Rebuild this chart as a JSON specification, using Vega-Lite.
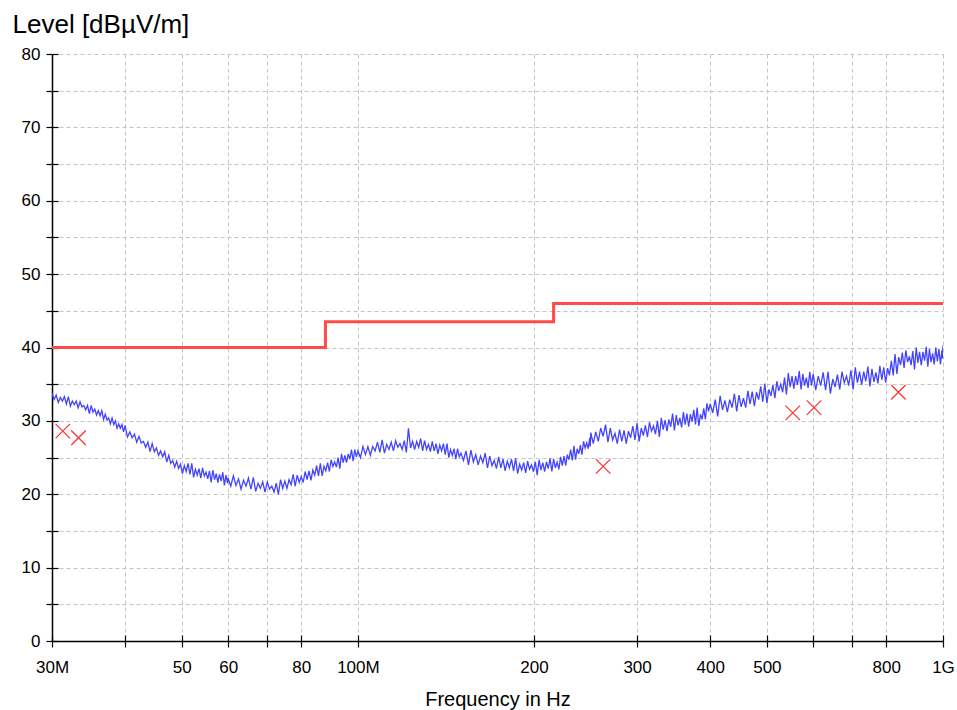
{
  "$schema": "https://vega.github.io/schema/vega-lite/v6.json",
  "width": 891,
  "height": 587,
  "autosize": "none",
  "padding": {"left": 52, "top": 54, "right": 14, "bottom": 69},
  "background": "white",
  "config": {
    "view": {"stroke": null},
    "font": "Liberation Sans"
  },
  "datasets": {
    "trace": [
      {"f":30,"v":33.8},{"f":30.25,"v":32.9},{"f":30.5,"v":33.5},{"f":30.75,"v":32.5},{"f":31,"v":33.2},{"f":31.25,"v":32.7},{"f":31.5,"v":33.3},{"f":31.75,"v":32.3},{"f":32,"v":33.3},{"f":32.25,"v":32.0},{"f":32.5,"v":32.7},{"f":32.75,"v":32.2},{"f":33,"v":32.7},{"f":33.25,"v":31.8},{"f":33.5,"v":32.6},{"f":33.75,"v":31.9},{"f":34,"v":32.1},{"f":34.25,"v":31.5},{"f":34.5,"v":32.1},{"f":34.75,"v":31.0},{"f":35,"v":32.1},{"f":35.25,"v":31.2},{"f":35.5,"v":31.6},{"f":35.75,"v":30.8},{"f":36,"v":31.4},{"f":36.25,"v":30.7},{"f":36.5,"v":31.4},{"f":36.75,"v":30.2},{"f":37,"v":30.9},{"f":37.25,"v":30.1},{"f":37.5,"v":30.4},{"f":37.75,"v":29.6},{"f":38,"v":30.4},{"f":38.25,"v":29.5},{"f":38.5,"v":30.0},{"f":38.75,"v":29.0},{"f":39,"v":29.6},{"f":39.25,"v":29.0},{"f":39.5,"v":29.5},{"f":39.75,"v":28.5},
      {"f":40,"v":29.4},{"f":40.375,"v":27.8},{"f":40.75,"v":28.5},{"f":41.125,"v":27.7},{"f":41.5,"v":28.2},{"f":41.875,"v":27.1},{"f":42.25,"v":27.9},{"f":42.625,"v":27.0},{"f":43,"v":27.2},{"f":43.375,"v":26.4},{"f":43.75,"v":27.1},{"f":44.125,"v":25.8},{"f":44.5,"v":26.9},{"f":44.875,"v":25.8},{"f":45.25,"v":26.3},{"f":45.625,"v":25.3},{"f":46,"v":25.9},{"f":46.375,"v":25.1},{"f":46.75,"v":25.8},{"f":47.125,"v":24.4},{"f":47.5,"v":25.3},{"f":47.875,"v":24.2},{"f":48.25,"v":24.6},{"f":48.625,"v":23.7},{"f":49,"v":24.5},{"f":49.375,"v":23.5},{"f":49.75,"v":24.1},{"f":50.125,"v":22.8},{"f":50.5,"v":23.9},{"f":50.875,"v":23.1},{"f":51.25,"v":24.2},{"f":51.625,"v":22.7},{"f":52,"v":24.2},{"f":52.375,"v":22.3},{"f":52.75,"v":23.4},{"f":53.125,"v":22.6},{"f":53.5,"v":23.5},{"f":53.875,"v":22.2},{"f":54.25,"v":23.6},{"f":54.625,"v":22.5},{"f":55,"v":23.0},{"f":55.375,"v":22.1},{"f":55.75,"v":23.2},{"f":56.125,"v":21.6},{"f":56.5,"v":23.3},{"f":56.875,"v":22.0},{"f":57.25,"v":22.8},{"f":57.625,"v":21.6},{"f":58,"v":22.7},{"f":58.375,"v":21.8},{"f":58.75,"v":23.0},{"f":59.125,"v":21.2},{"f":59.5,"v":22.6},{"f":59.875,"v":21.5},
      {"f":60,"v":22.2},{"f":60.625,"v":21.1},{"f":61.25,"v":22.5},{"f":61.875,"v":21.2},{"f":62.5,"v":22.1},{"f":63.125,"v":20.7},{"f":63.75,"v":21.9},{"f":64.375,"v":21.1},{"f":65,"v":22.2},{"f":65.625,"v":20.7},{"f":66.25,"v":22.3},{"f":66.875,"v":20.4},{"f":67.5,"v":21.5},{"f":68.125,"v":20.8},{"f":68.75,"v":21.7},{"f":69.375,"v":20.3},{"f":70,"v":21.7},{"f":70.625,"v":20.7},{"f":71.25,"v":21.1},{"f":71.875,"v":20.3},{"f":72.5,"v":21.5},{"f":73.125,"v":20.0},{"f":73.75,"v":22.0},{"f":74.375,"v":20.8},{"f":75,"v":21.8},{"f":75.625,"v":20.8},{"f":76.25,"v":22.0},{"f":76.875,"v":21.3},{"f":77.5,"v":22.7},{"f":78.125,"v":21.1},{"f":78.75,"v":22.6},{"f":79.375,"v":21.6},{"f":80,"v":22.4},{"f":80.625,"v":21.6},{"f":81.25,"v":23.1},{"f":81.875,"v":22.0},{"f":82.5,"v":23.2},{"f":83.125,"v":21.9},{"f":83.75,"v":23.3},{"f":84.375,"v":22.6},{"f":85,"v":23.9},{"f":85.625,"v":22.5},{"f":86.25,"v":24.2},{"f":86.875,"v":22.5},{"f":87.5,"v":23.8},{"f":88.125,"v":23.2},{"f":88.75,"v":24.3},{"f":89.375,"v":23.1},{"f":90,"v":24.7},{"f":90.625,"v":23.8},{"f":91.25,"v":24.4},{"f":91.875,"v":23.7},{"f":92.5,"v":25.0},{"f":93.125,"v":23.5},{"f":93.75,"v":25.5},{"f":94.375,"v":24.3},{"f":95,"v":25.3},{"f":95.625,"v":24.3},{"f":96.25,"v":25.5},{"f":96.875,"v":24.8},{"f":97.5,"v":26.1},{"f":98.125,"v":24.5},{"f":98.75,"v":26.1},{"f":99.375,"v":25.1},
      {"f":100,"v":25.9},{"f":101,"v":25.0},{"f":102,"v":26.5},{"f":103,"v":25.4},{"f":104,"v":26.5},{"f":105,"v":25.3},{"f":106,"v":26.5},{"f":107,"v":25.9},{"f":108,"v":27.1},{"f":109,"v":25.7},{"f":110,"v":27.4},{"f":111,"v":25.6},{"f":112,"v":26.8},{"f":113,"v":26.1},{"f":114,"v":27.1},{"f":115,"v":25.9},{"f":116,"v":27.3},{"f":117,"v":26.4},{"f":118,"v":26.9},{"f":119,"v":26.1},{"f":120,"v":27.3},{"f":121,"v":25.7},{"f":122,"v":29.0},{"f":123,"v":26.3},{"f":124,"v":27.2},{"f":125,"v":26.1},{"f":126,"v":27.2},{"f":127,"v":26.4},{"f":128,"v":27.6},{"f":129,"v":25.9},{"f":130,"v":27.3},{"f":131,"v":26.1},{"f":132,"v":26.8},{"f":133,"v":25.8},{"f":134,"v":27.2},{"f":135,"v":25.9},{"f":136,"v":26.9},{"f":137,"v":25.5},{"f":138,"v":26.7},{"f":139,"v":25.9},{"f":140,"v":26.9},{"f":141,"v":25.4},{"f":142,"v":26.9},{"f":143,"v":25.0},{"f":144,"v":26.1},{"f":145,"v":25.3},{"f":146,"v":26.2},{"f":147,"v":24.8},{"f":148,"v":26.2},{"f":149,"v":25.1},
      {"f":150,"v":25.6},{"f":151.5,"v":24.6},{"f":153,"v":25.9},{"f":154.5,"v":24.0},{"f":156,"v":26.0},{"f":157.5,"v":24.4},{"f":159,"v":25.4},{"f":160.5,"v":24.0},{"f":162,"v":25.2},{"f":163.5,"v":24.3},{"f":165,"v":25.6},{"f":166.5,"v":23.6},{"f":168,"v":25.2},{"f":169.5,"v":23.9},{"f":171,"v":24.6},{"f":172.5,"v":23.5},{"f":174,"v":25.1},{"f":175.5,"v":23.6},{"f":177,"v":24.8},{"f":178.5,"v":23.2},{"f":180,"v":24.5},{"f":181.5,"v":23.6},{"f":183,"v":24.8},{"f":184.5,"v":23.2},{"f":186,"v":24.9},{"f":187.5,"v":22.8},{"f":189,"v":24.1},{"f":190.5,"v":23.3},{"f":192,"v":24.3},{"f":193.5,"v":22.9},{"f":195,"v":24.5},{"f":196.5,"v":23.4},{"f":198,"v":24.0},{"f":199.5,"v":23.1},{"f":201,"v":24.4},{"f":202.5,"v":22.6},{"f":204,"v":24.7},{"f":205.5,"v":23.3},{"f":207,"v":24.3},{"f":208.5,"v":23.1},{"f":210,"v":24.4},{"f":211.5,"v":23.5},{"f":213,"v":24.9},{"f":214.5,"v":23.1},{"f":216,"v":24.8},{"f":217.5,"v":23.6},{"f":219,"v":24.4},{"f":220.5,"v":23.4},{"f":222,"v":25.1},{"f":223.5,"v":23.9},{"f":225,"v":25.2},{"f":226.5,"v":23.9},{"f":228,"v":25.4},{"f":229.5,"v":24.7},{"f":231,"v":26.1},{"f":232.5,"v":24.6},{"f":234,"v":26.6},{"f":235.5,"v":24.7},{"f":237,"v":26.2},{"f":238.5,"v":25.5},{"f":240,"v":26.7},{"f":241.5,"v":25.4},{"f":243,"v":27.2},{"f":244.5,"v":26.3},{"f":246,"v":27.0},{"f":247.5,"v":26.2},{"f":249,"v":27.7},{"f":249.5,"v":26.5},
      {"f":250,"v":28.4},{"f":252.5,"v":26.9},{"f":255,"v":28.5},{"f":257.5,"v":27.2},{"f":260,"v":29.0},{"f":262.5,"v":27.9},{"f":265,"v":29.5},{"f":267.5,"v":27.1},{"f":270,"v":29.0},{"f":272.5,"v":27.4},{"f":275,"v":28.3},{"f":277.5,"v":26.9},{"f":280,"v":28.8},{"f":282.5,"v":27.2},{"f":285,"v":28.7},{"f":287.5,"v":26.9},{"f":290,"v":28.6},{"f":292.5,"v":27.7},{"f":295,"v":29.3},{"f":297.5,"v":27.4},{"f":300,"v":29.7},{"f":302.5,"v":27.2},{"f":305,"v":29.0},{"f":307.5,"v":28.0},{"f":310,"v":29.4},{"f":312.5,"v":27.8},{"f":315,"v":29.8},{"f":317.5,"v":28.6},{"f":320,"v":29.3},{"f":322.5,"v":28.2},{"f":325,"v":30.0},{"f":327.5,"v":27.8},{"f":330,"v":30.4},{"f":332.5,"v":28.8},{"f":335,"v":30.1},{"f":337.5,"v":28.6},{"f":340,"v":30.2},{"f":342.5,"v":29.2},{"f":345,"v":31.0},{"f":347.5,"v":28.7},{"f":350,"v":30.8},{"f":352.5,"v":29.4},{"f":355,"v":30.4},{"f":357.5,"v":29.1},{"f":360,"v":31.2},{"f":362.5,"v":29.5},{"f":365,"v":31.0},{"f":367.5,"v":29.2},{"f":370,"v":30.9},{"f":372.5,"v":29.9},{"f":375,"v":31.5},{"f":377.5,"v":29.5},{"f":380,"v":31.8},{"f":382.5,"v":29.3},{"f":385,"v":30.9},{"f":387.5,"v":30.2},{"f":390,"v":31.7},{"f":392.5,"v":30.2},{"f":395,"v":32.4},{"f":397.5,"v":31.3},
      {"f":400,"v":32.3},{"f":404,"v":31.1},{"f":408,"v":32.9},{"f":412,"v":30.6},{"f":416,"v":33.4},{"f":420,"v":31.5},{"f":424,"v":32.8},{"f":428,"v":31.2},{"f":432,"v":32.9},{"f":436,"v":31.8},{"f":440,"v":33.7},{"f":444,"v":31.3},{"f":448,"v":33.5},{"f":452,"v":31.9},{"f":456,"v":33.1},{"f":460,"v":31.8},{"f":464,"v":34.1},{"f":468,"v":32.3},{"f":472,"v":34.0},{"f":476,"v":32.0},{"f":480,"v":33.9},{"f":484,"v":32.9},{"f":488,"v":34.7},{"f":492,"v":32.6},{"f":496,"v":35.1},{"f":500,"v":32.4},{"f":504,"v":34.3},{"f":508,"v":33.4},{"f":512,"v":34.9},{"f":516,"v":33.1},{"f":520,"v":35.4},{"f":524,"v":34.1},{"f":528,"v":35.0},{"f":532,"v":33.9},{"f":536,"v":35.9},{"f":540,"v":33.6},{"f":544,"v":36.5},{"f":548,"v":34.6},{"f":552,"v":36.1},{"f":556,"v":34.4},{"f":560,"v":36.1},{"f":564,"v":34.9},{"f":568,"v":36.8},{"f":572,"v":34.3},{"f":576,"v":36.4},{"f":580,"v":34.8},{"f":584,"v":35.9},{"f":588,"v":34.5},{"f":592,"v":36.7},{"f":596,"v":34.8},
      {"f":600,"v":36.4},{"f":606,"v":34.2},{"f":612,"v":36.1},{"f":618,"v":34.8},{"f":624,"v":36.6},{"f":630,"v":34.2},{"f":636,"v":36.7},{"f":642,"v":33.7},{"f":648,"v":35.7},{"f":654,"v":34.6},{"f":660,"v":36.3},{"f":666,"v":34.3},{"f":672,"v":36.7},{"f":678,"v":35.2},{"f":684,"v":36.1},{"f":690,"v":34.8},{"f":696,"v":36.9},{"f":702,"v":34.3},{"f":708,"v":37.3},{"f":714,"v":35.2},{"f":720,"v":36.7},{"f":726,"v":34.9},{"f":732,"v":36.7},{"f":738,"v":35.4},{"f":744,"v":37.4},{"f":750,"v":34.7},{"f":756,"v":37.1},{"f":762,"v":35.3},{"f":768,"v":36.6},{"f":774,"v":35.1},{"f":780,"v":37.5},{"f":786,"v":35.6},{"f":792,"v":37.3},{"f":798,"v":35.2},{"f":804,"v":37.2},{"f":810,"v":36.2},{"f":816,"v":38.2},{"f":822,"v":36.2},{"f":828,"v":39.1},{"f":834,"v":36.4},{"f":840,"v":38.7},{"f":846,"v":37.6},{"f":852,"v":39.3},{"f":858,"v":37.2},{"f":864,"v":39.6},{"f":870,"v":38.0},{"f":876,"v":38.8},{"f":882,"v":37.6},{"f":888,"v":39.5},{"f":894,"v":37.0},{"f":900,"v":40.0},{"f":906,"v":37.9},{"f":912,"v":39.4},{"f":918,"v":37.6},{"f":924,"v":39.4},{"f":930,"v":38.2},{"f":936,"v":40.1},{"f":942,"v":37.4},{"f":948,"v":39.8},{"f":954,"v":38.0},{"f":960,"v":39.2},{"f":966,"v":37.7},{"f":972,"v":40.0},{"f":978,"v":38.1},{"f":984,"v":39.8},{"f":990,"v":37.7},{"f":996,"v":39.6},{"f":998,"v":38.5},{"f":1000,"v":40.3}
    ],
    "limit": [
      {"f":30,"v":40},{"f":88,"v":43.5},{"f":216,"v":46},{"f":1000,"v":46}
    ],
    "peaks": [
      {"f":31.3,"v":28.6},{"f":33.3,"v":27.7},{"f":262.5,"v":23.8},{"f":553.6,"v":31.1},{"f":602,"v":31.8},{"f":839,"v":33.9}
    ]
  },
  "resolve": {"axis": {"x": "independent", "y": "independent"}},
  "layer": [
    {
      "data": {"name": "trace"},
      "mark": {"type": "line", "color": "#4444ff", "strokeWidth": 1.3, "clip": true},
      "encoding": {
        "x": {
          "field": "f", "type": "quantitative",
          "scale": {"type": "log", "domain": [30, 1000], "nice": false},
          "axis": {
            "orient": "bottom",
            "values": [30, 40, 50, 60, 70, 80, 100, 200, 300, 400, 500, 600, 700, 800, 1000],
            "format": "d",
            "labelExpr": "datum.value == 30 ? '30M' : datum.value == 100 ? '100M' : datum.value == 1000 ? '1G' : (datum.value == 40 || datum.value == 70 || datum.value == 600 || datum.value == 700) ? '' : datum.label",
            "labelOverlap": false,
            "labelFlush": false,
            "labelBound": false,
            "labelFontSize": 17,
            "labelColor": "#000000",
            "labelPadding": 12,
            "tickSize": 6,
            "tickColor": "#000000",
            "tickWidth": 1.2,
            "domainColor": "#000000",
            "domainWidth": 1.5,
            "grid": true,
            "gridColor": "#c4c4c4",
            "gridDash": [4, 3],
            "gridWidth": 1,
            "title": "Frequency in Hz",
            "titleFontSize": 20,
            "titleFontWeight": "normal",
            "titleColor": "#000000",
            "titleBaseline": "alphabetic",
            "titleY": 64
          }
        },
        "y": {
          "field": "v", "type": "quantitative",
          "scale": {"domain": [0, 80], "nice": false},
          "axis": {
            "orient": "left",
            "values": [0, 5, 10, 15, 20, 25, 30, 35, 40, 45, 50, 55, 60, 65, 70, 75, 80],
            "labelExpr": "datum.value % 10 === 0 ? datum.label : ''",
            "labelOverlap": false,
            "labelFlush": false,
            "labelBound": false,
            "labelFontSize": 17,
            "labelColor": "#000000",
            "labelPadding": 6,
            "tickSize": 6,
            "tickColor": "#000000",
            "tickWidth": 1.2,
            "domainColor": "#000000",
            "domainWidth": 1.5,
            "grid": true,
            "gridColor": "#c4c4c4",
            "gridDash": [4, 3],
            "gridWidth": 1,
            "title": "Level [dBµV/m]",
            "titleAngle": 0,
            "titleAlign": "left",
            "titleBaseline": "alphabetic",
            "titleX": -40,
            "titleY": -22,
            "titleFontSize": 26,
            "titleFontWeight": "normal",
            "titleColor": "#000000"
          }
        }
      }
    },
    {
      "data": {"name": "limit"},
      "mark": {"type": "line", "interpolate": "step-after", "color": "#ff4a4a", "strokeWidth": 3},
      "encoding": {
        "x": {
          "field": "f", "type": "quantitative",
          "scale": {"type": "log", "domain": [30, 1000], "nice": false},
          "axis": {
            "orient": "bottom",
            "values": [30, 40, 50, 60, 70, 80, 100, 200, 300, 400, 500, 600, 700, 800, 1000],
            "labels": false, "domain": false, "grid": false, "title": null,
            "tickSize": -6, "tickColor": "#000000", "tickWidth": 1.2
          }
        },
        "y": {
          "field": "v", "type": "quantitative",
          "scale": {"domain": [0, 80], "nice": false},
          "axis": {
            "orient": "left",
            "values": [0, 5, 10, 15, 20, 25, 30, 35, 40, 45, 50, 55, 60, 65, 70, 75, 80],
            "labels": false, "domain": false, "grid": false, "title": null,
            "tickSize": -6, "tickColor": "#000000", "tickWidth": 1.2
          }
        }
      }
    },
    {
      "data": {"name": "peaks"},
      "mark": {"type": "point", "shape": "M-1,-1L1,1M-1,1L1,-1", "filled": false, "stroke": "#ff2e2e", "strokeWidth": 1.2, "size": 210, "opacity": 1},
      "encoding": {
        "x": {"field": "f", "type": "quantitative", "scale": {"type": "log", "domain": [30, 1000], "nice": false}, "axis": null},
        "y": {"field": "v", "type": "quantitative", "scale": {"domain": [0, 80], "nice": false}, "axis": null}
      }
    }
  ]
}
